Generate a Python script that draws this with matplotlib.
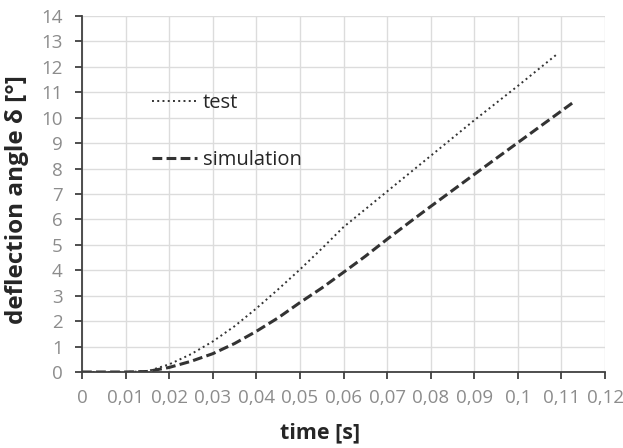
import matplotlib
matplotlib.use("Agg")
import matplotlib.pyplot as plt
from matplotlib.ticker import FixedLocator

# Data
t_test = [0.0, 0.010, 0.015, 0.020, 0.025, 0.030, 0.035, 0.040, 0.045, 0.050,
          0.055, 0.060, 0.065, 0.070, 0.080, 0.090, 0.100, 0.109]
y_test = [0.0, 0.0, 0.03, 0.30, 0.70, 1.20, 1.80, 2.50, 3.25, 4.03,
          4.85, 5.70, 6.40, 7.10, 8.50, 9.90, 11.25, 12.50]

t_sim = [0.0, 0.010, 0.015, 0.020, 0.025, 0.030, 0.035, 0.040, 0.045, 0.050,
         0.055, 0.060, 0.065, 0.070, 0.075, 0.080, 0.090, 0.100, 0.113]
y_sim = [0.0, 0.0, 0.02, 0.18, 0.42, 0.72, 1.12, 1.60, 2.13, 2.73,
         3.30, 3.92, 4.55, 5.22, 5.87, 6.51, 7.77, 9.02, 10.64]

x_ticks = [0.00, 0.01, 0.02, 0.03, 0.04, 0.05, 0.06, 0.07, 0.08, 0.09, 0.10, 0.11, 0.12]
x_tick_labels = ["0", "0,01", "0,02", "0,03", "0,04", "0,05", "0,06", "0,07",
                 "0,08", "0,09", "0,1", "0,11", "0,12"]
y_ticks = list(range(0, 15))

plt.rcParams['font.family'] = ['Open Sans', 'DejaVu Sans']

fig = plt.figure(figsize=(6.23, 4.48), dpi=100)
ax = fig.add_axes([82/623, 1-372/448, (605-82)/623, (372-16)/448])

ax.plot(t_test, y_test, color="#333333", lw=1.4, linestyle=(0, (1, 1.7)), label="test")
ax.plot(t_sim, y_sim, color="#333333", lw=2.2, linestyle=(0, (3.2, 1.4)), label="simulation")

ax.set_xlim(0, 0.12)
ax.set_ylim(0, 14)
ax.xaxis.set_major_locator(FixedLocator(x_ticks))
ax.set_xticklabels(x_tick_labels)
ax.yaxis.set_major_locator(FixedLocator(y_ticks))

ax.grid(True, color="#dcdcdc", lw=1.0)
ax.set_axisbelow(True)
for s in ["top", "right"]:
    ax.spines[s].set_visible(False)
for s in ["left", "bottom"]:
    ax.spines[s].set_color("#404040")
    ax.spines[s].set_linewidth(1.3)
ax.tick_params(axis="both", direction="out", length=5, width=1.3, color="#404040",
               labelcolor="#8c8c8c", labelsize=13.5)
ax.tick_params(axis="x", pad=7)
ax.tick_params(axis="y", pad=9)

ax.set_xlabel("time [s]", fontsize=15.5, fontweight="bold", color="#262626")
ax.set_ylabel("deflection angle δ [°]", fontsize=17.5, fontweight="bold", color="#262626")
ax.xaxis.set_label_coords((320 - 82) / 523, -(433 - 372) / 356)
ax.yaxis.set_label_coords(-(82 - 17) / 523, (372 - 200) / 356)
ax.xaxis.label.set_va("center")
ax.yaxis.label.set_va("center")

leg = ax.legend(loc="upper left", bbox_to_anchor=(0.10, 0.835), frameon=False,
                fontsize=14.5, handlelength=2.2, handletextpad=0.3, labelspacing=1.85)
for txt in leg.get_texts():
    txt.set_color("#262626")

fig.savefig("out.png", dpi=100)
